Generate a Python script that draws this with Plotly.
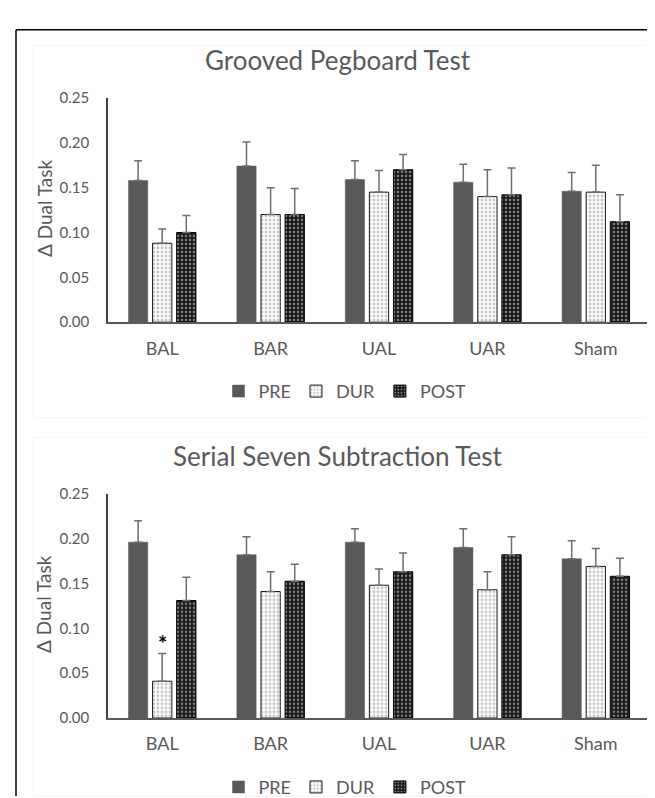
import plotly.graph_objects as go

categories = ["BAL", "BAR", "UAL", "UAR", "Sham"]
series = ["PRE", "DUR", "POST"]

# Grooved Pegboard Test
gp_pre = [0.158, 0.174, 0.159, 0.156, 0.146]
gp_dur = [0.088, 0.120, 0.145, 0.140, 0.145]
gp_post = [0.100, 0.120, 0.170, 0.142, 0.112]
gp_pre_err = [0.022, 0.027, 0.021, 0.020, 0.021]
gp_dur_err = [0.016, 0.030, 0.024, 0.030, 0.030]
gp_post_err = [0.019, 0.029, 0.017, 0.030, 0.030]

# Serial Seven Subtraction Test
ss_pre = [0.196, 0.182, 0.196, 0.190, 0.1775]
ss_dur = [0.041, 0.141, 0.148, 0.143, 0.169]
ss_post = [0.131, 0.1525, 0.163, 0.182, 0.158]
ss_pre_err = [0.024, 0.020, 0.015, 0.021, 0.020]
ss_dur_err = [0.031, 0.022, 0.018, 0.020, 0.020]
ss_post_err = [0.026, 0.019, 0.021, 0.020, 0.020]

y_ticks = [0.00, 0.05, 0.10, 0.15, 0.20, 0.25]
y_ticktext = ["0.00", "0.05", "0.10", "0.15", "0.20", "0.25"]
star_value = 0.09

W, H = 655, 798
FONT = "Lato"
TXT = "#595959"


def px_x(x):
    return x / W


def px_y(y):
    return 1 - y / H


styles = {
    "PRE": dict(color="#595959", line=dict(color="#595959", width=0.5)),
    "DUR": dict(color="#ffffff", line=dict(color="#1a1a1a", width=1),
                pattern=dict(shape=".", fgcolor="#8c8c8c", bgcolor="#ffffff",
                             size=4, solidity=0.45, fillmode="overlay")),
    "POST": dict(color="#1a1a1a", line=dict(color="#000000", width=1),
                 pattern=dict(shape=".", fgcolor="#e6e6e6", bgcolor="#1a1a1a",
                              size=4, solidity=0.3, fillmode="overlay")),
}

fig = go.Figure()

panels = [
    ("x", "y", "legend", [gp_pre, gp_dur, gp_post], [gp_pre_err, gp_dur_err, gp_post_err]),
    ("x2", "y2", "legend2", [ss_pre, ss_dur, ss_post], [ss_pre_err, ss_dur_err, ss_post_err]),
]
for xa, ya, lg, vals, errs in panels:
    for name, v, e in zip(series, vals, errs):
        fig.add_trace(go.Bar(
            x=categories, y=v, name=name, xaxis=xa, yaxis=ya, legend=lg,
            marker=styles[name],
            error_y=dict(type="data", symmetric=False, array=e,
                         arrayminus=[0] * len(e), color="#6e6e6e",
                         thickness=1.5, width=4),
        ))

top_dom = [px_y(312), px_y(82)]
bot_dom = [px_y(718), px_y(488)]
x_dom = [px_x(100), px_x(642)]

xcommon = dict(domain=x_dom, showline=True, linecolor="#595959", linewidth=1.5,
               ticks="", tickfont=dict(family=FONT, size=18, color=TXT),
               ticklabelstandoff=9, showgrid=False, zeroline=False)
ycommon = dict(range=[0, 0.25], tickvals=y_ticks, ticktext=y_ticktext,
               showline=True, linecolor="#404040", linewidth=1.5,
               ticks="", tickfont=dict(family=FONT, size=15, color=TXT),
               ticklabelstandoff=14, showgrid=False, zeroline=False)

legend_common = dict(orientation="h", xanchor="center", yanchor="middle",
                     font=dict(family=FONT, size=18, color=TXT),
                     itemwidth=30, tracegroupgap=0, bgcolor="rgba(0,0,0,0)")

fig.update_layout(
    width=W, height=H,
    margin=dict(l=0, r=0, t=0, b=0),
    paper_bgcolor="white", plot_bgcolor="white",
    barmode="group", bargap=0.333, bargroupgap=0.2,
    xaxis=dict(anchor="y", **xcommon),
    yaxis=dict(anchor="x", domain=top_dom, **ycommon),
    xaxis2=dict(anchor="y2", **xcommon),
    yaxis2=dict(anchor="x2", domain=bot_dom, **ycommon),
    legend=dict(x=px_x(337), y=px_y(383), **legend_common),
    legend2=dict(x=px_x(337), y=px_y(789), **legend_common),
    showlegend=True,
)

annotations = [
    dict(text="Grooved Pegboard Test", x=px_x(330), y=px_y(43), xref="paper", yref="paper",
         showarrow=False, font=dict(family=FONT, size=26, color=TXT), xanchor="center", yanchor="middle"),
    dict(text="Serial Seven Subtraction Test", x=px_x(330), y=px_y(449), xref="paper", yref="paper",
         showarrow=False, font=dict(family=FONT, size=26, color=TXT), xanchor="center", yanchor="middle"),
    dict(text="Δ Dual Task", x=px_x(36), y=px_y(195), xref="paper", yref="paper", textangle=-90,
         showarrow=False, font=dict(family=FONT, size=19, color=TXT), xanchor="center", yanchor="middle"),
    dict(text="Δ Dual Task", x=px_x(36), y=px_y(601), xref="paper", yref="paper", textangle=-90,
         showarrow=False, font=dict(family=FONT, size=19, color=TXT), xanchor="center", yanchor="middle"),
    dict(text="<b>*</b>", x=categories[0], y=star_value, xref="x2", yref="y2",
         yshift=-6, showarrow=False, font=dict(family=FONT, size=22, color="#000000"),
         xanchor="center", yanchor="middle"),
]
fig.update_layout(annotations=annotations)

shapes = [
    # outer black frame (top and left)
    dict(type="line", xref="paper", yref="paper", x0=px_x(8), x1=1, y0=px_y(12), y1=px_y(12),
         line=dict(color="#000000", width=1.5)),
    dict(type="line", xref="paper", yref="paper", x0=px_x(8), x1=px_x(8), y0=px_y(12), y1=0,
         line=dict(color="#000000", width=1.5)),
    # faint chart-area borders
    dict(type="rect", xref="paper", yref="paper", x0=px_x(25), x1=px_x(646), y0=px_y(410), y1=px_y(28),
         line=dict(color="#f5f5f5", width=1)),
    dict(type="rect", xref="paper", yref="paper", x0=px_x(25), x1=px_x(646), y0=0, y1=px_y(430),
         line=dict(color="#f5f5f5", width=1)),
]
fig.update_layout(shapes=shapes)

fig.write_html("out.html")
